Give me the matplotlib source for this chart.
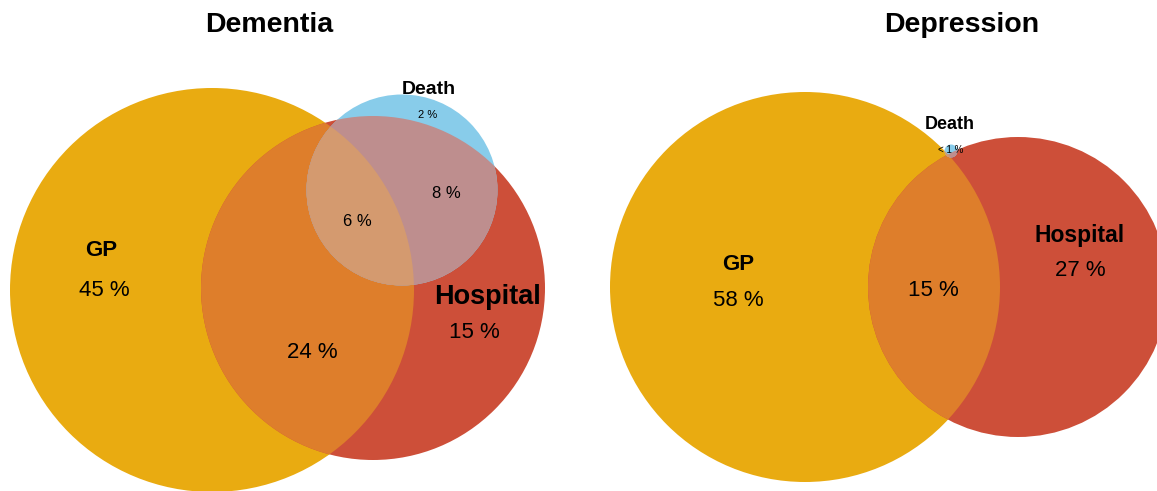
import matplotlib
matplotlib.use("Agg")
import matplotlib.pyplot as plt
from matplotlib.patches import Circle

plt.rcParams['font.family'] = ['Liberation Sans', 'DejaVu Sans']

# ---- data ----
panel_titles = ["Dementia", "Depression"]
set_names = ["GP", "Hospital", "Death"]
# region percentages
dementia_regions = {"GP": "45 %", "Hospital": "15 %", "Death": "2 %",
                    "GP&Hospital": "24 %", "GP&Hospital&Death": "6 %",
                    "Hospital&Death": "8 %"}
depression_regions = {"GP": "58 %", "Hospital": "27 %", "Death": "< 1 %",
                      "GP&Hospital": "15 %"}

# ---- layout (pixel space) ----
W, H = 1157, 491
colors = {"GP": "#E9AB11", "Hospital": "#CD4F39", "Death": "#88CCEA",
          "GP&Hospital": "#DE7E2B", "Hospital&Death": "#BE8E8E",
          "GP&Hospital&Death": "#D49A6F"}

dem_circles = {"GP": (212, 290, 202), "Hospital": (373, 288, 172),
               "Death": (402, 190, 95.5)}
dep_circles = {"GP": (805, 287, 195), "Hospital": (1018, 287, 150),
               "Death": (951, 151, 6.5)}

fig = plt.figure(figsize=(W / 100, H / 100), dpi=100)
ax = fig.add_axes([0, 0, 1, 1])
ax.set_xlim(0, W)
ax.set_ylim(H, 0)
ax.set_aspect('equal')
ax.axis('off')


def draw_venn(circ):
    gx, gy, gr = circ["GP"]
    hx, hy, hr = circ["Hospital"]
    dx, dy, dr = circ["Death"]
    ax.add_patch(Circle((gx, gy), gr, fc=colors["GP"], ec='none', zorder=1))
    ax.add_patch(Circle((hx, hy), hr, fc=colors["Hospital"], ec='none', zorder=2))
    ov = Circle((hx, hy), hr, fc=colors["GP&Hospital"], ec='none', zorder=3)
    ax.add_patch(ov)
    ov.set_clip_path(Circle((gx, gy), gr, transform=ax.transData))
    ax.add_patch(Circle((dx, dy), dr, fc=colors["Death"], ec='none', zorder=4))
    dh = Circle((dx, dy), dr, fc=colors["Hospital&Death"], ec='none', zorder=5)
    ax.add_patch(dh)
    dh.set_clip_path(Circle((hx, hy), hr, transform=ax.transData))
    dgh = Circle((dx, dy), dr, fc=colors["GP&Hospital&Death"], ec='none', zorder=6)
    ax.add_patch(dgh)
    dgh.set_clip_path(Circle((gx, gy), gr, transform=ax.transData))


draw_venn(dem_circles)
draw_venn(dep_circles)

big = 16
kw = dict(ha='center', va='center', zorder=10, color='black')

# Titles
ax.text(269, 25, panel_titles[0], fontsize=20.5, fontweight='bold', **kw)
ax.text(962, 25, panel_titles[1], fontsize=20.5, fontweight='bold', **kw)

# Dementia labels
ax.text(101, 250, set_names[0], fontsize=big, fontweight='bold', **kw)
ax.text(104, 290, dementia_regions["GP"], fontsize=big, **kw)
ax.text(488, 297, set_names[1], fontsize=19.5, fontweight='bold', **kw)
ax.text(474, 332, dementia_regions["Hospital"], fontsize=big, **kw)
ax.text(429, 89, set_names[2], fontsize=14, fontweight='bold', **kw)
ax.text(428, 115, dementia_regions["Death"], fontsize=8, **kw)
ax.text(312, 353, dementia_regions["GP&Hospital"], fontsize=big, **kw)
ax.text(357, 221, dementia_regions["GP&Hospital&Death"], fontsize=12, **kw)
ax.text(446, 193, dementia_regions["Hospital&Death"], fontsize=12, **kw)

# Depression labels
ax.text(738, 264, set_names[0], fontsize=big, fontweight='bold', **kw)
ax.text(738, 300, depression_regions["GP"], fontsize=big, **kw)
ax.text(1080, 235, set_names[1], fontsize=16.5, fontweight='bold', **kw)
ax.text(1080, 271, depression_regions["Hospital"], fontsize=big, **kw)
ax.text(950, 124, set_names[2], fontsize=13, fontweight='bold', **kw)
ax.text(951, 150, depression_regions["Death"], fontsize=7, **kw)
ax.text(933, 290, depression_regions["GP&Hospital"], fontsize=big, **kw)

fig.savefig("out.png", dpi=100)
